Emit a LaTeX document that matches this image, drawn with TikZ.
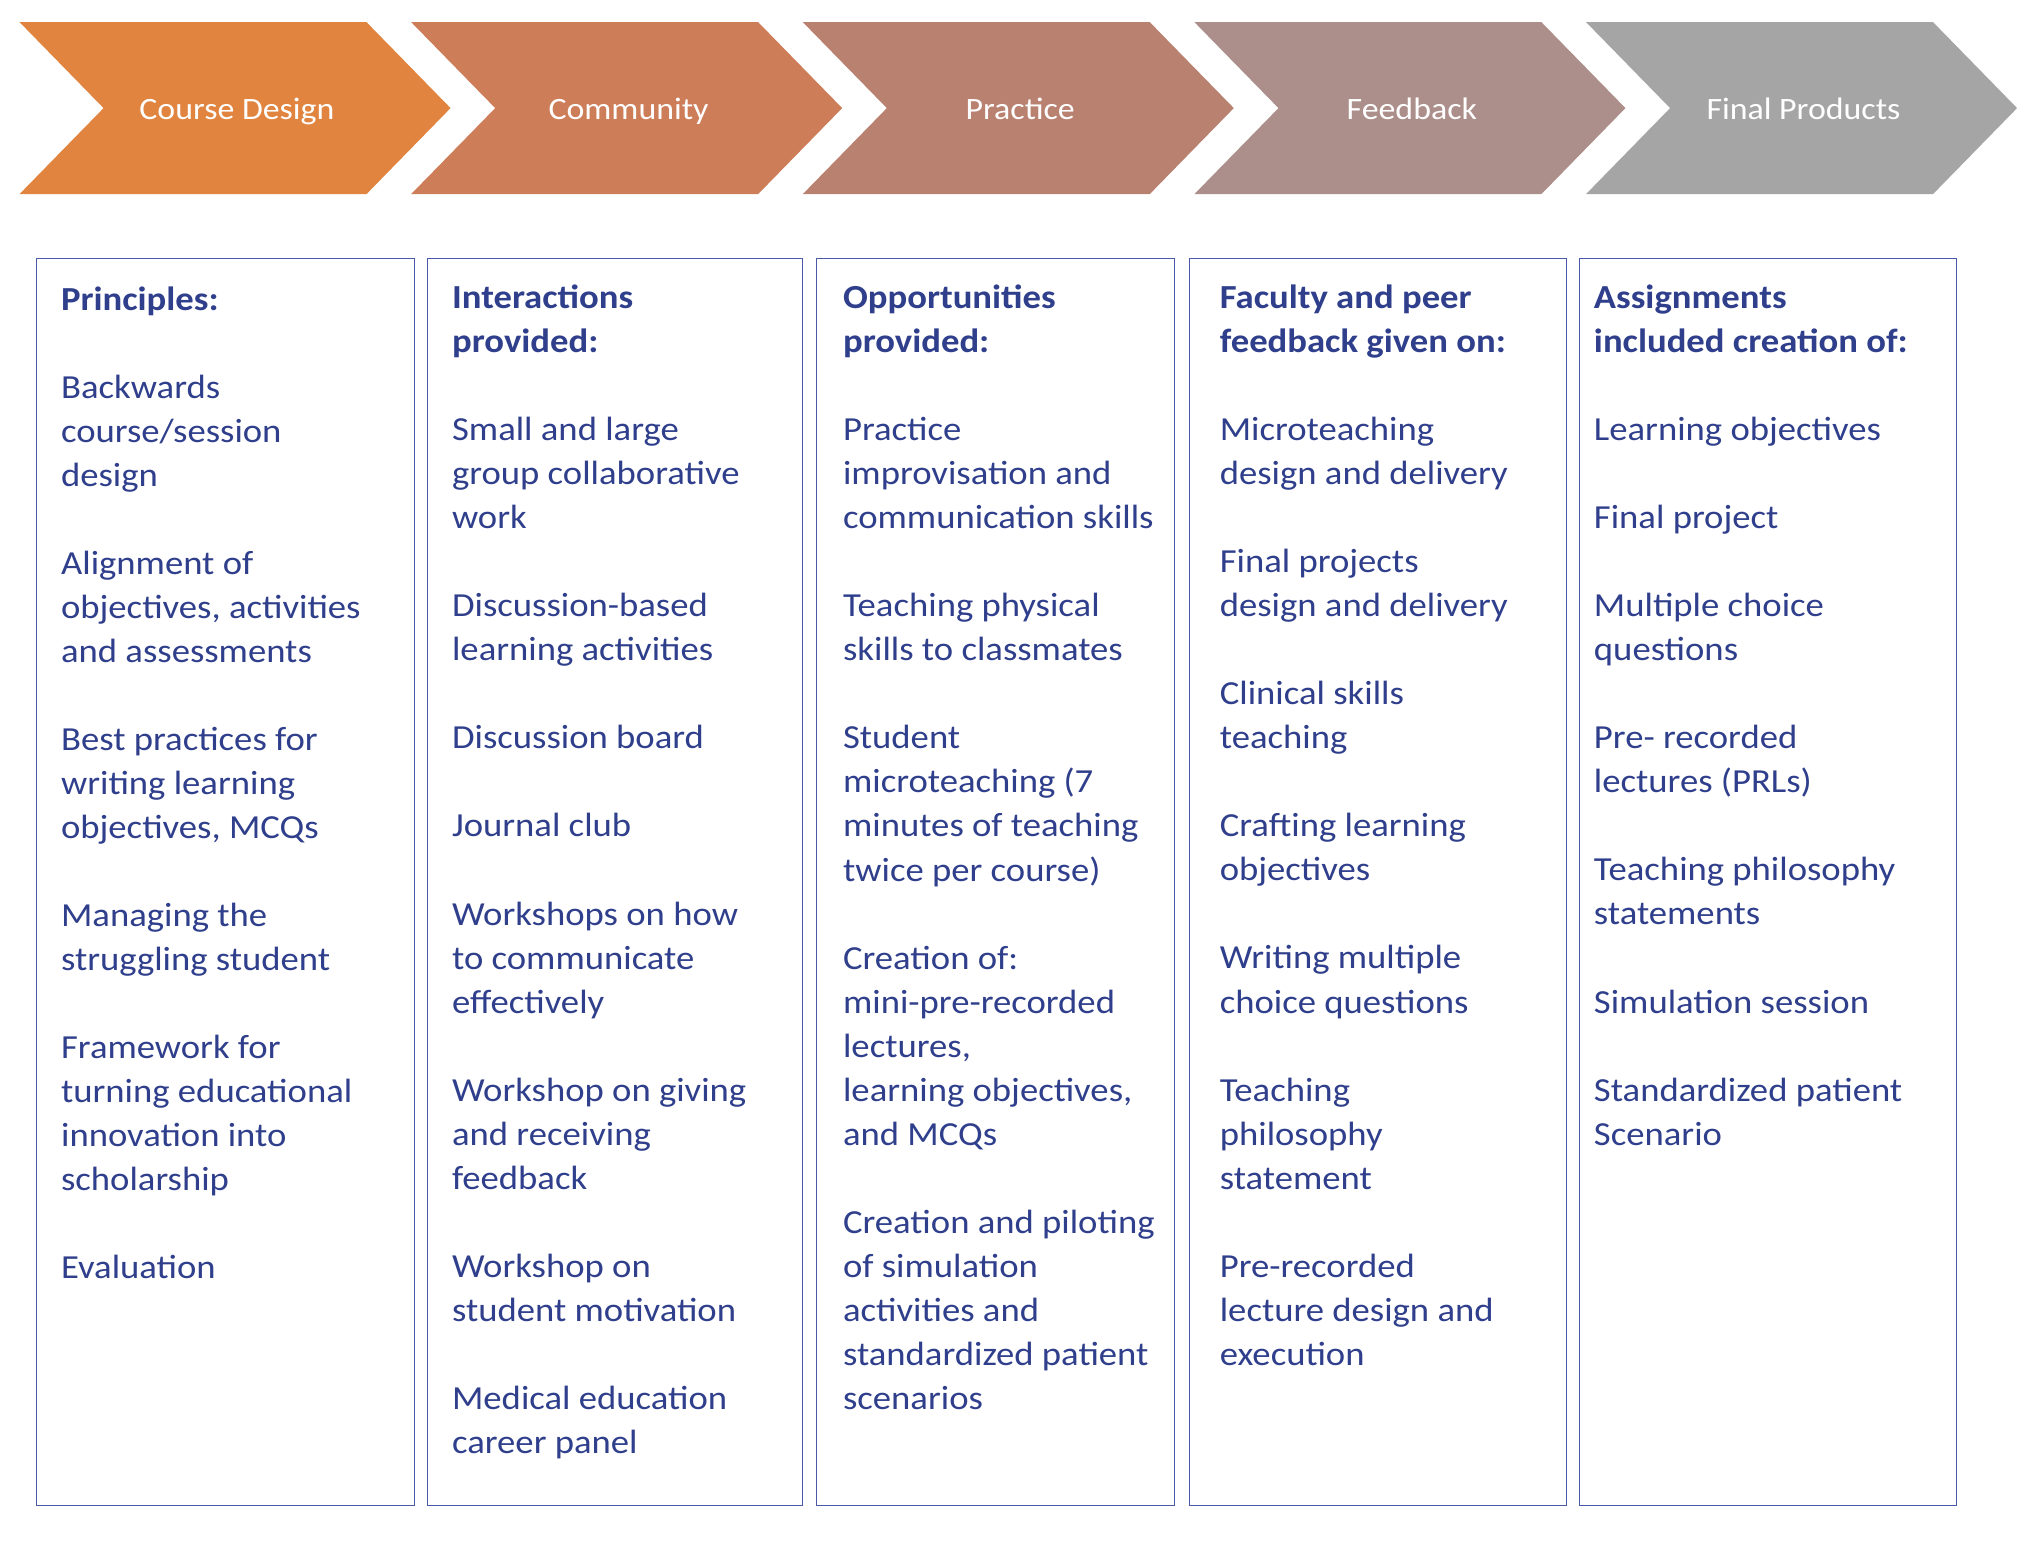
\documentclass[tikz,border=0pt]{standalone}
\usepackage{fontspec}
\setmainfont{Carlito}
\newfontfamily\bodyfont{Carlito}[FakeStretch=1.09]
\definecolor{c1}{HTML}{E0843F}
\definecolor{c2}{HTML}{CD7D58}
\definecolor{c3}{HTML}{B98170}
\definecolor{c4}{HTML}{AC8F8A}
\definecolor{c5}{HTML}{A5A5A5}
\definecolor{txt}{HTML}{2F3F8C}
\definecolor{brd}{HTML}{4A5AA8}
\begin{document}
\begin{tikzpicture}[x=1pt,y=-1pt,
  chev/.style={font=\bodyfont\fontsize{24}{30}\selectfont, text=white},
  colbox/.style={draw=brd, line width=0.8pt},
  coltext/.style={anchor=north west, inner sep=0pt, align=left, text=txt, font=\bodyfont\fontsize{26}{34}\selectfont}]
\useasboundingbox (0,0) rectangle (1568,1192);
\fill[white] (0,0) rectangle (1568,1192);
\foreach \i/\c/\t in {0/c1/Course Design,1/c2/Community,2/c3/Practice,3/c4/Feedback,4/c5/Final Products}{
  \pgfmathsetmacro{\xo}{15+302.5*\i}
  \fill[\c] (\xo,17) -- ({\xo+268},17) -- ({\xo+333},83.5) -- ({\xo+268},150) -- (\xo,150) -- ({\xo+65},83.5) -- cycle;
  \node[chev, anchor=base] (h\i) at ({\xo+168},92) {\t};
}
\draw[colbox] (28,200) rectangle (320,1163);
\draw[colbox] (330,200) rectangle (620,1163);
\draw[colbox] (631,200) rectangle (907,1163);
\draw[colbox] (919,200) rectangle (1210,1163);
\draw[colbox] (1220,200) rectangle (1511,1163);
\node[coltext] (t1) at (47,221) {\textbf{Principles:}\\[34pt]
Backwards\\course/session\\design\\[34pt]
Alignment of\\objectives, activities\\and assessments\\[34pt]
Best practices for\\writing learning\\objectives, MCQs\\[34pt]
Managing the\\struggling student\\[34pt]
Framework for\\turning educational\\innovation into\\scholarship\\[34pt]
Evaluation};
\node[coltext] (t2) at (349,220) {\textbf{Interactions}\\\textbf{provided:}\\[34pt]
Small and large\\group collaborative\\work\\[34pt]
Discussion-based\\learning activities\\[34pt]
Discussion board\\[34pt]
Journal club\\[34pt]
Workshops on how\\to communicate\\effectively\\[34pt]
Workshop on giving\\and receiving\\feedback\\[34pt]
Workshop on\\student motivation\\[34pt]
Medical education\\career panel};
\node[coltext] (t3) at (651,220) {\textbf{Opportunities}\\\textbf{provided:}\\[34pt]
Practice\\improvisation and\\communication skills\\[34pt]
Teaching physical\\skills to classmates\\[34pt]
Student\\microteaching (7\\minutes of teaching\\twice per course)\\[34pt]
Creation of:\\mini-pre-recorded\\lectures,\\learning objectives,\\and MCQs\\[34pt]
Creation and piloting\\of simulation\\activities and\\standardized patient\\scenarios};
\node[coltext] (t4) at (942,220) {\textbf{Faculty and peer}\\\textbf{feedback given on:}\\[34pt]
Microteaching\\design and delivery\\[34pt]
Final projects\\design and delivery\\[34pt]
Clinical skills\\teaching\\[34pt]
Crafting learning\\objectives\\[34pt]
Writing multiple\\choice questions\\[34pt]
Teaching\\philosophy\\statement\\[34pt]
Pre-recorded\\lecture design and\\execution};
\node[coltext] (t5) at (1231,220) {\textbf{Assignments}\\\textbf{included creation of:}\\[34pt]
Learning objectives\\[34pt]
Final project\\[34pt]
Multiple choice\\questions\\[34pt]
Pre- recorded\\lectures (PRLs)\\[34pt]
Teaching philosophy\\statements\\[34pt]
Simulation session\\[34pt]
Standardized patient\\Scenario};
\end{tikzpicture}
\end{document}
